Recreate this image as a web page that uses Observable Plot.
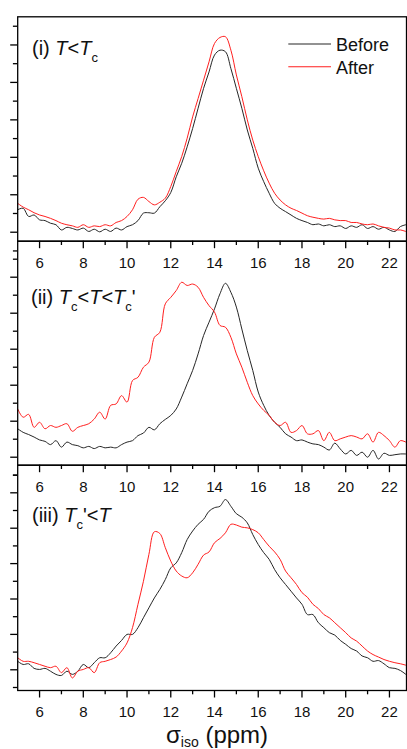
<!DOCTYPE html>
<html>
<head>
<meta charset="utf-8">
<script src="https://cdn.jsdelivr.net/npm/d3@7"></script>
<script src="https://cdn.jsdelivr.net/npm/@observablehq/plot@0.6"></script>
<style>
  html, body { margin: 0; padding: 0; background: white; }
  #chart { position: relative; width: 407px; height: 749px; overflow: hidden; }
  #chart svg { position: absolute; left: 0; top: 0; }
</style>
</head>
<body>
<div id="chart"></div>
<script>
// chemical shift grid (ppm)
const ppm = [5.00,5.25,5.50,5.75,6.00,6.25,6.50,6.75,7.00,7.25,7.50,7.75,8.00,8.25,8.50,8.75,9.00,9.25,9.50,9.75,
  10.00,10.25,10.50,10.75,11.00,11.25,11.50,11.75,12.00,12.25,12.50,12.75,13.00,13.25,13.50,13.75,14.00,14.25,14.50,14.75,
  15.00,15.25,15.50,15.75,16.00,16.25,16.50,16.75,17.00,17.25,17.50,17.75,18.00,18.25,18.50,18.75,19.00,19.25,19.50,19.75,
  20.00,20.25,20.50,20.75,21.00,21.25,21.50,21.75,22.00,22.25,22.50,22.75];

// (i) T < Tc
const p1Before = [0.60,0.64,0.42,0.46,0.33,0.31,0.24,0.20,0.06,0.13,0.10,0.06,0.11,0.02,0.08,0.01,0.08,0.02,0.11,0.06,
  0.15,0.20,0.31,0.51,0.52,0.51,0.68,0.84,1.06,1.48,1.84,2.28,2.77,3.31,3.84,4.28,4.73,4.86,4.82,4.37,
  3.84,3.31,2.73,2.24,1.71,1.35,1.04,0.77,0.64,0.55,0.46,0.37,0.31,0.26,0.20,0.22,0.17,0.20,0.15,0.17,
  0.10,0.17,0.13,0.20,0.10,0.15,0.08,0.13,0.06,0.02,0.15,0.20];
const p1After = [0.77,0.67,0.60,0.52,0.46,0.42,0.37,0.31,0.24,0.20,0.17,0.13,0.20,0.13,0.17,0.15,0.20,0.17,0.26,0.31,
  0.42,0.60,0.88,0.93,0.82,0.73,0.80,0.91,1.22,1.62,2.02,2.51,3.08,3.57,4.06,4.55,5.04,5.20,5.22,4.86,
  4.20,3.62,3.00,2.46,2.02,1.64,1.31,1.04,0.86,0.73,0.64,0.58,0.51,0.44,0.40,0.37,0.35,0.37,0.33,0.31,
  0.31,0.26,0.26,0.22,0.20,0.22,0.17,0.13,0.11,0.06,0.06,0.02];

// (ii) Tc < T < Tc'
const p2Before = [0.79,0.69,0.63,0.56,0.48,0.44,0.35,0.46,0.28,0.42,0.35,0.32,0.26,0.30,0.24,0.30,0.26,0.28,0.26,0.35,
  0.42,0.46,0.60,0.67,0.83,0.76,0.93,1.05,1.16,1.34,1.67,2.04,2.41,2.87,3.38,3.75,4.12,4.54,4.83,4.58,
  4.17,3.56,2.96,2.41,1.81,1.44,1.16,0.97,0.83,0.65,0.56,0.46,0.48,0.42,0.37,0.35,0.28,0.20,0.39,0.23,
  0.09,0.19,0.05,0.14,0.00,0.19,-0.05,0.11,0.05,0.07,0.09,0.09];
const p2After = [1.34,1.11,1.19,0.83,0.97,0.79,0.88,0.83,0.88,0.93,0.72,0.83,0.88,0.93,1.06,1.25,1.06,1.44,1.48,1.71,
  1.53,2.13,2.22,2.50,2.64,3.33,3.47,4.26,4.44,4.63,4.86,4.77,4.81,4.72,4.44,4.21,4.03,3.66,3.61,3.33,
  2.87,2.50,2.08,1.71,1.48,1.30,1.16,0.97,0.88,0.97,0.69,0.74,0.88,0.65,0.65,0.74,0.46,0.69,0.46,0.51,
  0.56,0.60,0.56,0.51,0.65,0.42,0.69,0.60,0.46,0.28,0.46,0.42];

// (iii) Tc' < T
const p3Before = [0.24,0.15,0.17,0.04,0.01,0.04,-0.04,-0.13,-0.16,-0.04,-0.13,-0.04,0.15,0.06,0.20,0.34,0.34,0.48,0.67,0.83,
  1.00,1.00,1.19,1.47,1.75,2.03,2.27,2.55,2.88,3.02,3.31,3.68,3.92,4.11,4.25,4.48,4.58,4.62,4.81,4.62,
  4.41,4.31,4.15,3.82,3.54,3.31,3.12,2.83,2.60,2.41,2.22,2.03,1.85,1.56,1.56,1.33,1.19,1.05,0.98,0.83,
  0.72,0.60,0.53,0.39,0.34,0.24,0.26,0.17,0.06,0.04,-0.02,-0.13];
const p3After = [0.34,0.24,0.24,0.20,0.15,0.10,0.06,0.10,-0.08,0.06,-0.23,-0.04,0.01,0.06,-0.08,0.20,0.24,0.29,0.36,0.53,
  0.76,1.19,1.85,2.50,3.26,3.90,3.85,3.45,3.07,2.79,2.65,2.60,2.74,2.98,3.24,3.33,3.59,3.71,3.87,4.11,
  4.09,4.03,4.01,3.96,3.87,3.68,3.49,3.33,3.12,2.79,2.60,2.41,2.18,2.05,1.85,1.73,1.56,1.47,1.33,1.19,
  1.05,0.90,0.81,0.67,0.53,0.43,0.36,0.29,0.24,0.20,0.17,0.13];

// ticks
const xMajor = [6, 8, 10, 12, 14, 16, 18, 20, 22];
const xMinor = [7, 9, 11, 13, 15, 17, 19, 21];
const yMajor = [0, 1, 2, 3, 4, 5];
const yMinor = [-0.5, 0.5, 1.5, 2.5, 3.5, 4.5, 5.5];

const seriesNames = ["Before", "After"];
const seriesColors = ["#262626", "#ff1f1f"];

const FONT = "'Liberation Sans', Arial, Helvetica, sans-serif";
const W = 407, H = 749;

function panel(before, after, marginTop, marginBottom, yDomain) {
  const rows = ppm.map((x, i) => ({x, before: before[i], after: after[i]}));
  return Plot.plot({
    width: W, height: H,
    marginTop, marginBottom, marginLeft: 17.2, marginRight: 1,
    style: {background: "transparent", fontFamily: FONT, fontSize: "15px", color: "#111", overflow: "visible"},
    x: {domain: [5, 22.78], label: null},
    y: {domain: yDomain, label: null},
    marks: [
      Plot.lineY(rows, {x: "x", y: "before", stroke: seriesColors[0], strokeWidth: 1, curve: "catmull-rom", clip: true}),
      Plot.lineY(rows, {x: "x", y: "after", stroke: seriesColors[1], strokeWidth: 1, curve: "catmull-rom", clip: true}),
      Plot.axisX({ticks: xMajor, tickSize: 7.5, tickPadding: 8.5, tickFormat: d => String(d), strokeWidth: 1.3, stroke: "#000", fill: "#111", fontSize: 15, label: null}),
      Plot.axisX({ticks: xMinor, tickSize: 4.3, tickFormat: () => "", strokeWidth: 1.3, stroke: "#000", label: null}),
      Plot.axisY({ticks: yMajor, tickSize: 7, tickFormat: () => "", strokeWidth: 1.3, stroke: "#000", label: null}),
      Plot.axisY({ticks: yMinor, tickSize: 4.3, tickFormat: () => "", strokeWidth: 1.3, stroke: "#000", label: null}),
      Plot.frame({stroke: "#000", strokeWidth: 1.3})
    ]
  });
}

function addText(svg, x, y, size, parts) {
  const t = d3.select(svg).append("text")
    .attr("x", x).attr("y", y)
    .attr("text-anchor", "start")
    .attr("font-size", size).attr("font-family", FONT).attr("fill", "#111")
    .style("white-space", "pre");
  parts.forEach(p => {
    const s = t.append("tspan").text(p.t);
    if (p.i) s.attr("font-style", "italic");
    if (p.dy) s.attr("dy", p.dy);
    if (p.size) s.attr("font-size", p.size);
  });
}

const chart = document.getElementById("chart");

const s1 = panel(p1Before, p1After, 16.3, H - 240.7, [-0.24, 5.752]);
const s2 = panel(p2Before, p2After, 240.7, H - 464.7, [-0.222, 6.0]);
const s3 = panel(p3Before, p3After, 464.7, H - 690, [-0.585, 5.78]);
chart.append(s1, s2, s3);

// panel labels
const sub = 13, sh = 7;
addText(s1, 32, 55, 20, [{t: "(i) "}, {t: "T", i: 1}, {t: "<"}, {t: "T", i: 1}, {t: "c", size: sub, dy: sh}]);
addText(s2, 31, 303.5, 20, [{t: "(ii) "}, {t: "T", i: 1}, {t: "c", size: sub, dy: sh}, {t: "<", dy: -sh}, {t: "T", i: 1}, {t: "<"}, {t: "T", i: 1}, {t: "c", size: sub, dy: sh}, {t: "'", dy: -sh}]);
addText(s3, 32, 522, 20, [{t: "(iii) "}, {t: "T", i: 1}, {t: "c", size: sub, dy: sh}, {t: "'<", dy: -sh}, {t: "T", i: 1}]);

// legend
const lg = d3.select(s1).append("g").attr("font-family", FONT).attr("font-size", 18).attr("fill", "#111").attr("text-anchor", "start");
seriesNames.forEach((name, i) => {
  const y = 44 + i * 22.7;
  lg.append("line").attr("x1", 288.3).attr("x2", 331).attr("y1", y).attr("y2", y)
    .attr("stroke", seriesColors[i]).attr("stroke-width", 1.1);
  lg.append("text").attr("x", 336).attr("y", y + 6.8).text(name);
});

// x axis title
addText(s3, 166, 743, 24, [{t: "σ"}, {t: "iso", size: 14, dy: 4}, {t: " (ppm)", dy: -4}]);
</script>
</body>
</html>
